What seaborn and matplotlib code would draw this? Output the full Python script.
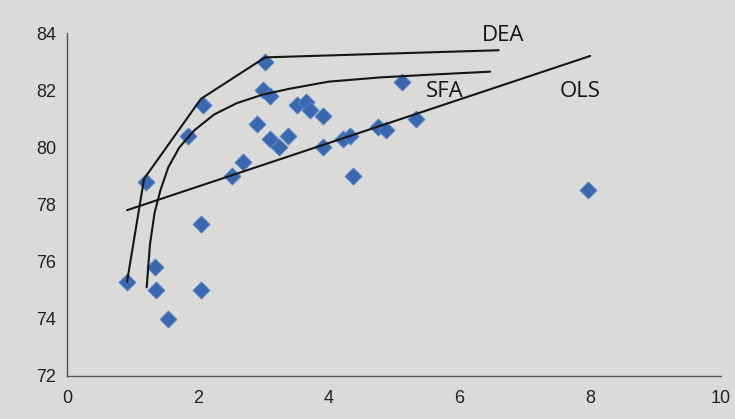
import pandas as pd
import matplotlib
matplotlib.use('Agg')
import matplotlib.pyplot as plt
import seaborn as sns

# Observed points (input vs output)
x_obs = [0.92, 1.21, 1.35, 1.36, 1.54, 1.85, 2.05, 2.05, 2.08, 2.52, 2.69, 2.90,
         3.00, 3.03, 3.10, 3.10, 3.25, 3.38, 3.52, 3.65, 3.72, 3.92, 3.92, 4.22,
         4.33, 4.38, 4.76, 4.88, 5.12, 5.34, 7.97]
y_obs = [75.3, 78.8, 75.8, 75.0, 74.0, 80.4, 77.3, 75.0, 81.5, 79.0, 79.5, 80.8,
         82.0, 83.0, 81.8, 80.3, 80.0, 80.4, 81.5, 81.6, 81.3, 81.1, 80.0, 80.3,
         80.4, 79.0, 80.7, 80.6, 82.3, 81.0, 78.5]

# Frontier / regression lines
dea_x = [0.92, 1.18, 2.05, 3.03, 6.60]
dea_y = [75.3, 78.9, 81.7, 83.15, 83.4]
sfa_x = [1.22, 1.27, 1.34, 1.43, 1.55, 1.72, 1.95, 2.25, 2.60, 3.00, 3.40, 4.00, 4.80, 5.60, 6.47]
sfa_y = [75.1, 76.6, 77.7, 78.5, 79.3, 80.0, 80.6, 81.15, 81.55, 81.85, 82.05, 82.3, 82.45, 82.55, 82.65]
ols_x = [0.92, 8.0]
ols_y = [77.8, 83.2]

labels = ['DEA', 'SFA', 'OLS']
label_x = [6.67, 5.78, 7.84]
label_y = [83.9, 81.95, 81.95]

x_ticks = [0, 2, 4, 6, 8, 10]
y_ticks = [72, 74, 76, 78, 80, 82, 84]

sns.set_style('white')
plt.rcParams['font.family'] = ['Liberation Sans', 'DejaVu Sans']

bg = '#dadad8'
fig = plt.figure(figsize=(7.35, 4.19), dpi=100, facecolor=bg)
ax = fig.add_axes([0.091, 0.103, 0.890, 0.818])
ax.set_facecolor(bg)

obs = pd.DataFrame({'x': x_obs, 'y': y_obs})
sns.scatterplot(data=obs, x='x', y='y', marker='D', s=75, color='#3a68b0',
                edgecolor='#5a86c6', linewidth=0.6, ax=ax, zorder=3)

for lx, ly in [(dea_x, dea_y), (sfa_x, sfa_y), (ols_x, ols_y)]:
    line = pd.DataFrame({'x': lx, 'y': ly})
    sns.lineplot(data=line, x='x', y='y', sort=False, estimator=None,
                 color='#161616', linewidth=1.5, ax=ax, zorder=4)

for t, tx, ty in zip(labels, label_x, label_y):
    ax.text(tx, ty, t, fontsize=16, color='#141414', ha='center', va='center',
            family=['Open Sans', 'DejaVu Sans'])

ax.set_xlim(0, 10)
ax.set_ylim(72, 84)
ax.set_xticks(x_ticks)
ax.set_yticks(y_ticks)
ax.set_xlabel('')
ax.set_ylabel('')
ax.tick_params(axis='both', labelsize=13, colors='#222222', length=4, width=0.8,
               direction='out')
ax.tick_params(axis='x', pad=6)
for side in ['top', 'right']:
    ax.spines[side].set_visible(False)
for side in ['left', 'bottom']:
    ax.spines[side].set_color('#555555')
    ax.spines[side].set_linewidth(1.0)

fig.savefig('out.png', dpi=100, facecolor=bg)
